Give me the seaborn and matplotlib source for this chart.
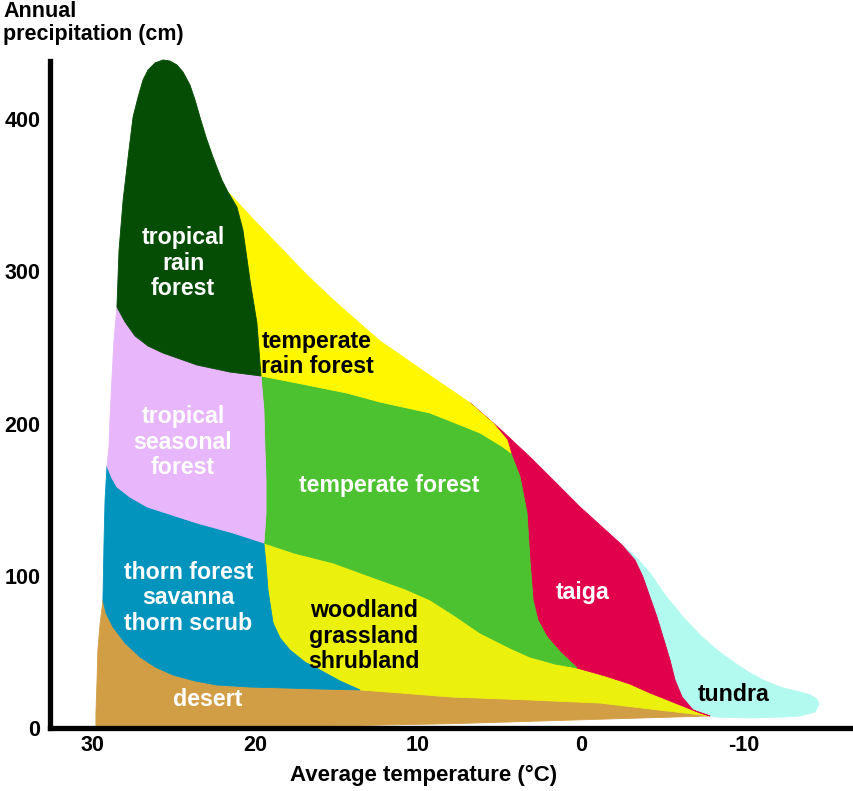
import numpy as np
import matplotlib
matplotlib.use("Agg")
import matplotlib.pyplot as plt
import seaborn as sns

# -------------------------
# Boundary curves
# (temperature in °C, precipitation in cm)
# -------------------------

# tropical rain forest outer edge (left side, peak, right side)
rf_outer_t = [28.48, 28.35, 28.10, 27.74, 27.49, 27.18, 26.88, 26.57, 26.14, 25.65, 25.22, 24.79,
              24.42, 23.99, 23.68, 23.38, 23.01, 22.58, 22.03, 21.66]
rf_outer_p = [276.5, 314.0, 346.8, 379.6, 401.3, 414.4, 425.6, 432.2, 436.8, 438.8, 438.1, 435.5,
              430.9, 422.3, 412.5, 401.3, 388.2, 375.0, 359.9, 352.1]

# tropical rain forest / temperate rain forest
rf_trf_t = [21.66, 21.11, 20.74, 20.31, 19.88, 19.63]
rf_trf_p = [352.1, 342.2, 327.1, 294.3, 266.0, 231.2]

# tropical rain forest / tropical seasonal forest
rf_tsf_t = [28.48, 27.98, 27.37, 26.57, 25.65, 23.56, 21.54, 19.63]
rf_tsf_p = [276.5, 266.7, 257.5, 250.9, 246.3, 238.4, 233.8, 231.2]

# temperate rain forest upper edge
trf_top_t = [21.66, 20.00, 18.46, 16.93, 15.39, 13.86, 12.32, 9.56, 6.79]
trf_top_p = [352.1, 333.0, 315.9, 298.9, 283.1, 268.6, 254.2, 233.8, 213.5]

# temperate rain forest / temperate forest
trf_tf_t = [19.63, 17.42, 14.35, 12.32, 9.25, 6.18, 4.77, 4.28]
trf_tf_p = [231.2, 226.6, 220.0, 214.1, 206.9, 193.8, 184.6, 180.6]

# temperate rain forest / taiga
trf_taiga_t = [6.79, 5.38, 4.52, 4.28]
trf_taiga_p = [213.5, 200.3, 189.2, 180.6]

# taiga upper edge
taiga_top_t = [6.79, 4.95, 3.11, 1.57, 0.04, -1.19, -2.54]
taiga_top_p = [213.5, 196.4, 178.0, 161.6, 145.2, 133.3, 120.2]

# tundra outer edge
tundra_t = [-2.54, -3.40, -4.26, -5.18, -6.29, -7.33, -8.38, -9.47, -10.41, -11.32, -12.44, -13.48,
            -14.10, -14.50, -14.64, -14.40, -13.48, -12.44, -10.41, -8.38, -7.95]
tundra_p = [120.2, 112.3, 101.8, 87.4, 72.9, 61.1, 51.2, 42.7, 36.1, 30.9, 26.3, 23.6,
            21.8, 19.0, 15.8, 10.5, 7.9, 7.2, 6.6, 7.2, 7.9]

# taiga / tundra
taiga_tundra_t = [-2.54, -3.34, -3.83, -4.26, -4.69, -5.12, -5.49, -5.80, -6.23, -6.91, -7.95]
taiga_tundra_p = [120.2, 110.3, 99.2, 86.0, 72.9, 57.8, 44.7, 31.5, 20.4, 11.8, 7.9]

# temperate forest / taiga
tf_taiga_t = [4.28, 3.72, 3.29, 3.11, 2.92, 2.62, 2.06, 1.25, 0.22]
tf_taiga_p = [180.6, 164.9, 141.2, 110.3, 84.1, 70.9, 59.8, 49.9, 39.4]

# taiga / woodland
taiga_wood_t = [0.22, -1.50, -3.03, -4.26, -6.11, -7.33, -7.95]
taiga_wood_p = [39.4, 34.2, 28.9, 23.0, 15.1, 9.9, 7.9]

# temperate forest / woodland
tf_wood_t = [19.45, 17.60, 15.20, 12.32, 10.78, 9.25, 7.71, 6.18, 4.34, 3.11, 1.57, 0.22]
tf_wood_p = [121.5, 114.9, 108.4, 97.2, 91.3, 84.1, 73.6, 62.4, 52.5, 46.6, 42.0, 39.4]

# tropical seasonal forest / temperate forest
tsf_tf_t = [19.63, 19.45, 19.39, 19.32, 19.32, 19.39, 19.45]
tsf_tf_p = [231.2, 208.9, 184.6, 162.9, 141.2, 130.0, 121.5]

# tropical seasonal forest left edge
tsf_left_t = [28.48, 28.66, 28.79, 28.91, 28.97, 29.09]
tsf_left_p = [276.5, 254.8, 228.6, 202.3, 184.6, 172.1]

# tropical seasonal forest / thorn forest
tsf_thorn_t = [29.09, 28.79, 28.48, 27.68, 26.63, 23.56, 21.35, 19.45]
tsf_thorn_p = [172.1, 164.2, 158.3, 151.7, 145.2, 134.6, 128.1, 121.5]

# thorn forest left edge
thorn_left_t = [29.09, 29.21, 29.27, 29.34]
thorn_left_p = [172.1, 149.8, 123.5, 84.1]

# thorn forest / woodland
thorn_wood_t = [19.45, 19.32, 19.20, 18.89, 18.46, 17.85, 16.93, 16.01, 14.78, 13.55]
thorn_wood_p = [121.5, 107.1, 90.6, 69.0, 59.1, 51.2, 43.3, 38.1, 30.9, 25.0]

# thorn forest / desert
thorn_desert_t = [29.34, 29.15, 28.72, 27.98, 27.06, 26.14, 25.04, 23.69, 22.33, 20.31, 18.28, 16.01, 13.55]
thorn_desert_p = [84.1, 75.5, 66.3, 55.8, 46.6, 40.1, 34.8, 30.9, 28.2, 26.9, 26.3, 25.6, 25.0]

# woodland / desert
wood_desert_t = [13.55, 11.09, 8.02, 3.11, -1.19, -4.26, -7.95]
wood_desert_p = [25.0, 23.0, 20.4, 18.4, 16.4, 12.5, 7.9]

# desert lower edge (right tip back to the left)
desert_bottom_t = [-7.95, 0.22, 8.0, 18.0, 29.77]
desert_bottom_p = [7.9, 5.3, 2.8, 0.8, 0.0]

# desert left edge (from bottom up to the thorn forest tip)
desert_left_t = [29.77, 29.77, 29.70, 29.65, 29.52, 29.34]
desert_left_p = [0.0, 9.9, 31.5, 51.2, 67.7, 84.1]

biomes = ["tropical rain forest", "temperate rain forest", "tropical seasonal forest",
          "temperate forest", "taiga", "tundra", "thorn forest", "woodland", "desert"]
labels = ["tropical\nrain\nforest", "temperate\nrain forest", "tropical\nseasonal\nforest",
          "temperate forest", "taiga", "tundra", "thorn forest\nsavanna\nthorn scrub",
          "woodland\ngrassland\nshrubland", "desert"]

colors = {
    "tropical rain forest": "#054c05",
    "temperate rain forest": "#fff700",
    "tropical seasonal forest": "#e8b6fa",
    "temperate forest": "#4dc230",
    "taiga": "#e0004b",
    "tundra": "#b2faef",
    "thorn forest": "#0394be",
    "woodland": "#ebf00c",
    "desert": "#d29e45",
}
text_colors = {
    "tropical rain forest": "white", "temperate rain forest": "black",
    "tropical seasonal forest": "white", "temperate forest": "white",
    "taiga": "white", "tundra": "black", "thorn forest": "white",
    "woodland": "black", "desert": "white",
}
label_pos = {
    "tropical rain forest": (24.42, 305.4),
    "temperate rain forest": (16.19, 245.5),
    "tropical seasonal forest": (24.42, 187.8),
    "temperate forest": (11.77, 159.0),
    "taiga": (-0.15, 88.7),
    "tundra": (-9.37, 21.7),
    "thorn forest": (24.1, 85.4),
    "woodland": (13.3, 60.4),
    "desert": (22.88, 18.4),
}


def seg(t, p, rev=False):
    t, p = np.asarray(t), np.asarray(p)
    if rev:
        return t[::-1], p[::-1]
    return t, p


def ring(*parts):
    t = np.concatenate([pt[0] for pt in parts])
    p = np.concatenate([pt[1] for pt in parts])
    return t, p


shapes = {
    "tropical rain forest": ring(seg(rf_outer_t, rf_outer_p), seg(rf_trf_t, rf_trf_p),
                                 seg(rf_tsf_t, rf_tsf_p, True)),
    "temperate rain forest": ring(seg(trf_top_t, trf_top_p), seg(trf_taiga_t, trf_taiga_p),
                                  seg(trf_tf_t, trf_tf_p, True), seg(rf_trf_t, rf_trf_p, True)),
    "tropical seasonal forest": ring(seg(rf_tsf_t, rf_tsf_p), seg(tsf_tf_t, tsf_tf_p),
                                     seg(tsf_thorn_t, tsf_thorn_p, True), seg(tsf_left_t, tsf_left_p, True)),
    "temperate forest": ring(seg(trf_tf_t, trf_tf_p), seg(tf_taiga_t, tf_taiga_p),
                             seg(tf_wood_t, tf_wood_p, True), seg(tsf_tf_t, tsf_tf_p, True)),
    "taiga": ring(seg(taiga_top_t, taiga_top_p), seg(taiga_tundra_t, taiga_tundra_p),
                  seg(taiga_wood_t, taiga_wood_p, True), seg(tf_taiga_t, tf_taiga_p, True),
                  seg(trf_taiga_t, trf_taiga_p, True)),
    "tundra": ring(seg(tundra_t, tundra_p), seg(taiga_tundra_t, taiga_tundra_p, True)),
    "thorn forest": ring(seg(tsf_thorn_t, tsf_thorn_p), seg(thorn_wood_t, thorn_wood_p),
                         seg(thorn_desert_t, thorn_desert_p, True), seg(thorn_left_t, thorn_left_p, True)),
    "woodland": ring(seg(tf_wood_t, tf_wood_p), seg(taiga_wood_t, taiga_wood_p),
                     seg(wood_desert_t, wood_desert_p, True), seg(thorn_wood_t, thorn_wood_p, True)),
    "desert": ring(seg(thorn_desert_t, thorn_desert_p), seg(wood_desert_t, wood_desert_p),
                   seg(desert_bottom_t, desert_bottom_p), seg(desert_left_t, desert_left_p)),
}

# -------------------------
# Plot
# -------------------------

sns.set_theme(style="white")
plt.rcParams["font.family"] = ["Liberation Sans", "DejaVu Sans"]
plt.rcParams["font.weight"] = "bold"
plt.rcParams["axes.unicode_minus"] = False
plt.rcParams["text.color"] = "black"
plt.rcParams["xtick.color"] = "black"
plt.rcParams["ytick.color"] = "black"
plt.rcParams["xtick.labelcolor"] = "black"
plt.rcParams["ytick.labelcolor"] = "black"

fig = plt.figure(figsize=(8.54, 7.91), dpi=100)
ax = fig.add_axes([50 / 854, 63 / 791, 804 / 854, 667 / 791])

draw_order = ["tundra", "desert", "woodland", "thorn forest", "taiga", "temperate forest",
              "tropical seasonal forest", "temperate rain forest", "tropical rain forest"]
for name in draw_order:
    t, p = shapes[name]
    ax.fill(t, p, color=colors[name], ec=colors[name], lw=0.6, clip_on=False, zorder=2)

for name, lab in zip(biomes, labels):
    x, y = label_pos[name]
    ax.text(x, y, lab, ha="center", va="center", color=text_colors[name],
            fontsize=16.7, fontweight="bold", linespacing=1.12, zorder=5)

ax.set_xlim(32.59, -16.79)
ax.set_ylim(0, 438.1)

ax.set_xticks([30, 20, 10, 0, -10])
ax.set_xticks([25, 15, 5, -5, -15], minor=True)
ax.set_yticks([0, 100, 200, 300, 400])
ax.set_yticks([50, 150, 250, 350], minor=True)

sns.despine(ax=ax)
for side in ["left", "bottom"]:
    ax.spines[side].set_linewidth(3.8)
    ax.spines[side].set_color("black")
    ax.spines[side].set_zorder(6)

ax.tick_params(axis="x", which="both", direction="in", length=7.5, width=3.2,
               color="black", labelcolor="black", labelsize=15.5, pad=5)
ax.tick_params(axis="y", which="both", direction="in", length=13.5, width=3.2,
               color="black", labelcolor="black", labelsize=15.5, pad=7)
for lab in ax.get_xticklabels() + ax.get_yticklabels():
    lab.set_fontweight("bold")
ax.grid(False)

fig.text(3 / 854, 1 - 1 / 791, "Annual\nprecipitation (cm)", ha="left", va="top",
         fontsize=15.5, fontweight="bold", linespacing=1.15)
fig.text(424 / 854, 1 - 775 / 791, "Average temperature (°C)", ha="center", va="center",
         fontsize=16, fontweight="bold")

fig.savefig("out.png", dpi=100)
